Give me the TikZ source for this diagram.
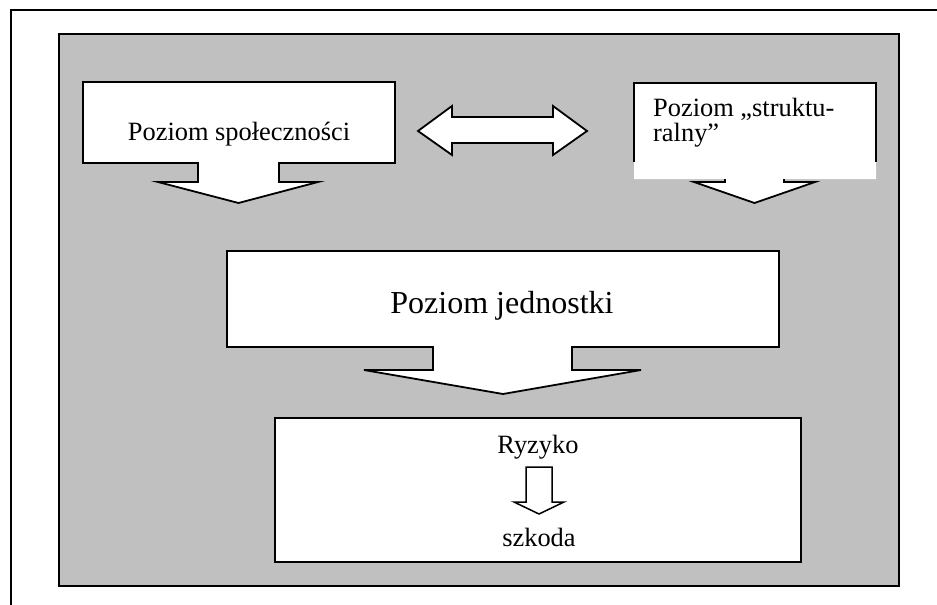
\documentclass[tikz,border=0pt]{standalone}
\usepackage{fontspec}
\setmainfont{Liberation Serif}
\definecolor{panelgray}{RGB}{192,192,192}
\tikzset{
  lbl/.style={inner sep=0pt, anchor=base, font=\fontsize{26.4}{30}\selectfont},
  biglbl/.style={inner sep=0pt, anchor=base, font=\fontsize{32}{36}\selectfont},
  callout/.style={fill=white, draw=black, line width=1.8pt, line join=miter},
}
\begin{document}
\begin{tikzpicture}[x=1pt,y=-1pt]
\useasboundingbox (0,0) rectangle (937,605);
\clip (0,0) rectangle (937,605);
% outer frame
\draw[line width=1.8pt] (11,620) -- (11,10) -- (950,10);
% gray panel
\draw[fill=panelgray, line width=2.2pt] (59,34) rectangle (899,586);

% box 1 with block arrow
\draw[callout] (83,82) -- (395,82) -- (395,163) -- (279,163) -- (279,182) -- (318,182)
  -- (238.5,203) -- (158,182) -- (198,182) -- (198,163) -- (83,163) -- cycle;
\node[lbl] (soc) at (239,140) {Poziom społeczności};

% box 2 (struktu-ralny)
\fill[white] (634,83) -- (876,83) -- (876,179) -- (784,179) -- (784,182) -- (815,182)
  -- (754.5,203) -- (694,182) -- (725,182) -- (725,179) -- (634,179) -- cycle;
\draw[line width=1.8pt] (634,162) -- (634,83) -- (876,83) -- (876,162);
\draw[line width=1.8pt, line join=miter] (784,179) -- (784,182) -- (815,182) -- (754.5,203)
  -- (694,182) -- (725,182) -- (725,179);
\node[lbl, anchor=base west] (str1) at (653,116) {Poziom „struktu-};
\node[lbl, anchor=base west] (str2) at (653,141) {ralny”};

% double arrow
\draw[callout] (418,131) -- (452,106) -- (452,117) -- (553,117) -- (553,106) -- (587,131)
  -- (553,155) -- (553,143) -- (452,143) -- (452,155) -- cycle;

% box 3 with block arrow
\draw[callout] (227,251) -- (779,251) -- (779,347) -- (572,347) -- (572,370) -- (641,370)
  -- (503,394) -- (364,370) -- (433,370) -- (433,347) -- (227,347) -- cycle;
\node[biglbl] (ind) at (502,313) {Poziom jednostki};

% box 4
\draw[fill=white, line width=1.8pt] (275,418) rectangle (801,562);
\node[lbl] (ryz) at (538,453) {Ryzyko};
\node[lbl] (szk) at (539,546) {szkoda};
\draw[callout, line width=1.5pt] (526,467) -- (552,467) -- (552,502) -- (564,502) -- (539,514)
  -- (514,502) -- (526,502) -- cycle;
\end{tikzpicture}
\end{document}
